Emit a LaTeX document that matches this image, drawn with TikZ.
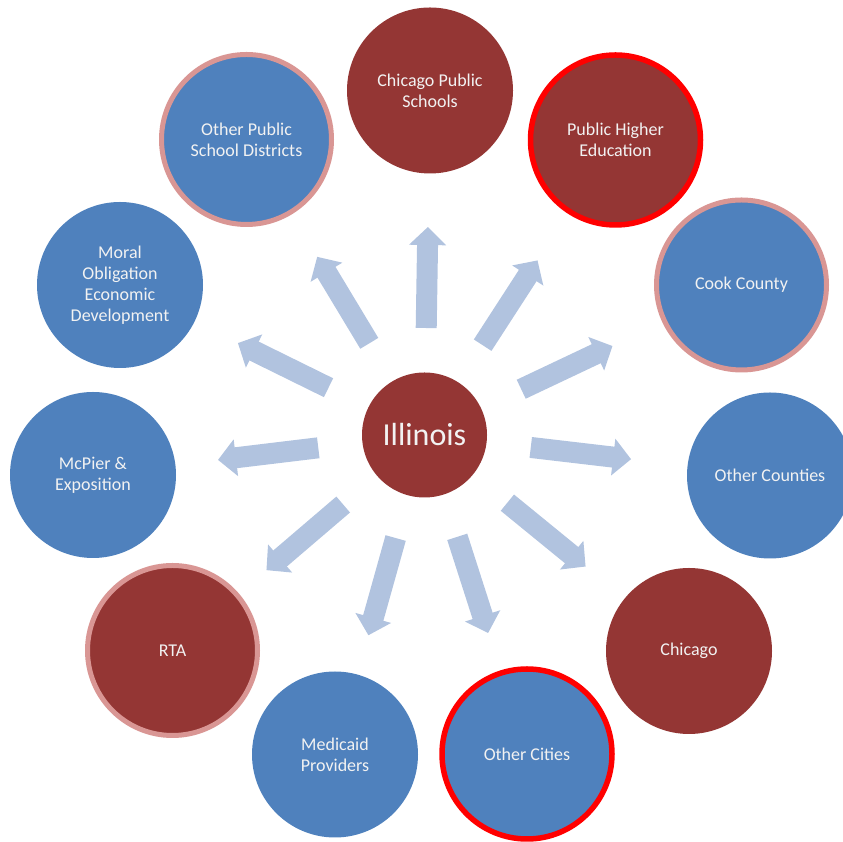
\documentclass[tikz,border=0pt]{standalone}
\usepackage{fontspec}
\setmainfont{Carlito}
\usetikzlibrary{calc,arrows.meta}
\definecolor{brn}{HTML}{943634}
\definecolor{blu}{HTML}{4F81BD}
\definecolor{pnk}{HTML}{D99694}
\definecolor{arr}{HTML}{B1C3DF}
\definecolor{txt}{HTML}{F2F2F2}
\begin{document}
\begin{tikzpicture}[x=1pt,y=1pt,
  bub/.style={circle,inner sep=0pt,minimum size=166pt,text=txt,
    font=\fontsize{18}{21}\selectfont,align=center},
  redb/.style={bub,fill=brn},
  blueb/.style={bub,fill=blu},
  pinkring/.style={draw=pnk,line width=5pt,minimum size=170pt},
  redring/.style={draw=red,line width=5.5pt,minimum size=170pt},
  barrow/.style={draw=arr,line width=21pt,-{Triangle[width=36pt,length=18pt]}}]
\useasboundingbox (0,0) rectangle (843,842);
\clip (0,0) rectangle (843,842);
\node[redb,minimum size=125pt,font=\fontsize{32}{36}\selectfont] (ill) at (424.5,407) {Illinois};
\node[redb] (cps) at (430,751.5) {Chicago Public\\Schools};
\node[redb,redring] (phe) at (615.5,702) {Public Higher\\Education};
\node[blueb,pinkring] (cook) at (741.5,557) {Cook County};
\node[blueb] (ocnt) at (770,366.5) {Other Counties};
\node[redb] (chi) at (689,191) {Chicago};
\node[blueb,redring] (ocit) at (527,88) {Other Cities};
\node[blueb] (med) at (335,87.5) {Medicaid\\Providers};
\node[redb,pinkring] (rta) at (172.5,191.5) {RTA};
\node[blueb] (mcp) at (93,367) {McPier \&\\Exposition};
\node[blueb] (mor) at (120,557) {Moral\\Obligation\\Economic\\Development};
\node[blueb,pinkring] (opsd) at (246.5,702.5) {Other Public\\School Districts};
\foreach \t in {cps,phe,cook,ocnt,chi,ocit,med,rta,mcp,mor,opsd}{
  \draw[barrow] ($(ill)!107pt!(\t)$) -- ($(ill)!208pt!(\t)$);
}
\end{tikzpicture}
\end{document}
